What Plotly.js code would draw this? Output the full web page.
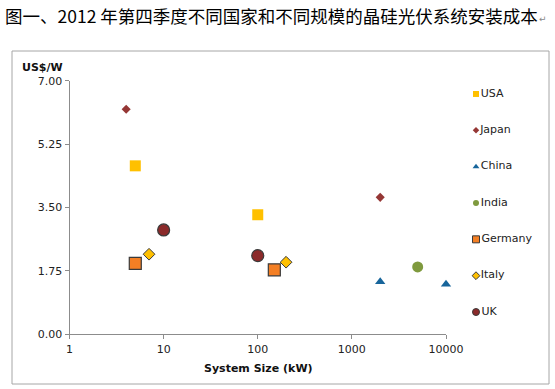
<!DOCTYPE html>
<html>
<head>
<meta charset="utf-8">
<script src="https://cdn.plot.ly/plotly-3.0.1.min.js"></script>
<style>html,body{margin:0;padding:0;background:#fff;}#chart{width:555px;height:389px;}</style>
</head>
<body>
<div id="chart"></div>
<script>
// ---- data ----
var countries = ["USA", "Japan", "China", "India", "Germany", "Italy", "UK"];
var usaSize = [5, 100];        var usaCost = [4.65, 3.30];
var japanSize = [4, 2000];     var japanCost = [6.21, 3.78];
var chinaSize = [2000, 10000]; var chinaCost = [1.45, 1.38];
var indiaSize = [5000];        var indiaCost = [1.86];
var germanySize = [5, 150];    var germanyCost = [1.96, 1.78];
var italySize = [7, 200];      var italyCost = [2.21, 1.99];
var ukSize = [10, 100];        var ukCost = [2.88, 2.17];
var xTickVals = [1, 10, 100, 1000, 10000];
var xTickText = ["1", "10", "100", "1000", "10000"];
var yTickVals = [0, 1.75, 3.5, 5.25, 7];
var chartTitle = "图一、2012 年第四季度不同国家和不同规模的晶硅光伏系统安装成本";
var yTitle = "US$/W";
var xTitle = "System Size (kW)";

// ---- styles ----
var W = 555, H = 389;
function px(x) { return x / W; }
function py(y) { return (H - y) / H; }
var styles = {
  USA:     {symbol: "square",      color: "#FFC000", line: 0,   lc: "#FFC000", size: 11, lsize: 6},
  Japan:   {symbol: "diamond",     color: "#953735", line: 0,   lc: "#953735", size: 7,  lsize: 5},
  China:   {symbol: "triangle-up", color: "#17659B", line: 0,   lc: "#17659B", size: 9,  lsize: 6},
  India:   {symbol: "circle",      color: "#7F9A3E", line: 0,   lc: "#7F9A3E", size: 11, lsize: 6},
  Germany: {symbol: "square",      color: "#F47F24", line: 1.2, lc: "#3A3A3A", size: 12, lsize: 7},
  Italy:   {symbol: "diamond",     color: "#FFC000", line: 1,   lc: "#3A3A3A", size: 9,  lsize: 6},
  UK:      {symbol: "circle",      color: "#8B2A2A", line: 1.2, lc: "#3A3A3A", size: 12, lsize: 7}
};
var seriesX = {USA: usaSize, Japan: japanSize, China: chinaSize, India: indiaSize, Germany: germanySize, Italy: italySize, UK: ukSize};
var seriesY = {USA: usaCost, Japan: japanCost, China: chinaCost, India: indiaCost, Germany: germanyCost, Italy: italyCost, UK: ukCost};

var traces = [];
countries.forEach(function (c) {
  var s = styles[c];
  traces.push({
    type: "scatter", mode: "markers", name: c, x: seriesX[c], y: seriesY[c],
    xaxis: "x", yaxis: "y", cliponaxis: false, hoverinfo: "x+y+name",
    marker: {symbol: s.symbol, size: s.size, color: s.color, line: {width: s.line, color: s.lc}}
  });
});
// legend drawn as its own small categorical axis
countries.forEach(function (c) {
  var s = styles[c];
  traces.push({
    type: "scatter", mode: "markers+text", x: [0], y: [c], text: [c],
    textposition: "middle right", xaxis: "x2", yaxis: "y2", cliponaxis: false,
    hoverinfo: "skip", showlegend: false,
    textfont: {family: "DejaVu Sans, Verdana, sans-serif", size: 11, color: "#222"},
    marker: {symbol: s.symbol, size: s.lsize, color: s.color, line: {width: s.line ? 1 : 0, color: s.lc}}
  });
});

var axisFont = {family: "DejaVu Sans, Verdana, sans-serif", size: 11, color: "#222"};
var layout = {
  width: W, height: H,
  margin: {l: 0, r: 0, t: 0, b: 0},
  paper_bgcolor: "#fff", plot_bgcolor: "#fff",
  showlegend: false,
  xaxis: {
    type: "log", range: [0, 4], domain: [px(69.5), px(446)],
    tickvals: xTickVals, ticktext: xTickText,
    showgrid: false, zeroline: false, showline: true, linecolor: "#8C8C8C", linewidth: 1,
    ticks: "outside", ticklen: 4, tickcolor: "#8C8C8C", tickfont: axisFont,
    anchor: "y"
  },
  yaxis: {
    range: [0, 7], domain: [py(334.3), py(80.7)],
    tickvals: yTickVals, tickformat: ".2f",
    showgrid: false, zeroline: false, showline: true, linecolor: "#8C8C8C", linewidth: 1,
    ticks: "outside", ticklen: 4, tickcolor: "#8C8C8C", tickfont: axisFont,
    anchor: "x"
  },
  xaxis2: {range: [0, 1], domain: [px(476), 1], visible: false, anchor: "y2", fixedrange: true},
  yaxis2: {type: "category", categoryorder: "array", categoryarray: countries,
           range: [6.5, -0.5], domain: [py(330.2), py(75.8)], visible: false, anchor: "x2", fixedrange: true},
  shapes: [
    {type: "rect", xref: "paper", yref: "paper", x0: px(12), x1: px(549), y0: py(384), y1: py(51),
     line: {color: "#A6A6A6", width: 1}, fillcolor: "rgba(0,0,0,0)", layer: "below"}
  ],
  annotations: [
    {text: chartTitle, xref: "paper", yref: "paper", x: px(3), y: py(16), xanchor: "left", yanchor: "middle",
     showarrow: false, font: {family: "Noto Sans CJK SC, sans-serif", size: 17.5, color: "#000"}},
    {text: "↵", xref: "paper", yref: "paper", x: px(537), y: py(19), xanchor: "left", yanchor: "middle",
     showarrow: false, font: {family: "DejaVu Sans, sans-serif", size: 9, color: "#888"}},
    {text: "<b>" + yTitle + "</b>", xref: "paper", yref: "paper", x: px(20), y: py(67), xanchor: "left", yanchor: "middle",
     showarrow: false, font: {family: "DejaVu Sans, Verdana, sans-serif", size: 11, color: "#111"}},
    {text: "<b>" + xTitle + "</b>", xref: "paper", yref: "paper", x: px(258), y: py(368), xanchor: "center", yanchor: "middle",
     showarrow: false, font: {family: "DejaVu Sans, Verdana, sans-serif", size: 11, color: "#111"}}
  ]
};
Plotly.newPlot("chart", traces, layout, {displayModeBar: false, staticPlot: true});
</script>
</body>
</html>
